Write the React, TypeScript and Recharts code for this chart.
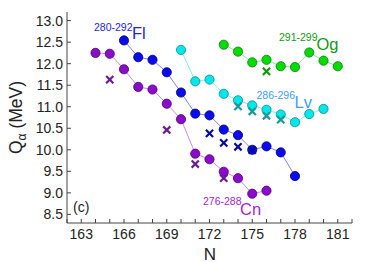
import React from 'react';
import { ScatterChart, Scatter, XAxis, YAxis } from 'recharts';

// calculated Q_alpha (circles, connected) and experiment (crosses)
const cnN = [164, 165, 166, 167, 168, 169, 170, 171, 172, 173, 174, 175, 176];
const cnQ = [12.25, 12.23, 11.87, 11.46, 11.4, 11.07, 10.71, 9.91, 9.78, 9.49, 9.34, 8.98, 9.05];
const flN = [166, 167, 168, 169, 170, 171, 172, 173, 174, 175, 176, 177, 178];
const flQ = [12.54, 12.15, 12.09, 11.8, 11.33, 10.84, 10.8, 10.47, 10.34, 10.0, 10.08, 9.94, 9.39];
const lvN = [170, 171, 172, 173, 174, 175, 176, 177, 178, 179, 180];
const lvQ = [12.32, 11.59, 11.63, 11.3, 11.15, 11.03, 10.93, 10.82, 10.64, 10.83, 10.95];
const ogN = [173, 174, 175, 176, 177, 178, 179, 180, 181];
const ogQ = [12.44, 12.28, 12.03, 12.09, 11.94, 11.92, 12.26, 12.07, 11.94];

const cnExpN = [165, 169, 171, 173];
const cnExpQ = [11.63, 10.46, 9.67, 9.34];
const flExpN = [172, 173, 174, 175];
const flExpQ = [10.38, 10.16, 10.07, 9.99];
const lvExpN = [174, 175, 176, 177];
const lvExpQ = [11.01, 10.89, 10.79, 10.7];
const ogExpN = [176];
const ogExpQ = [11.82];

const xTickLabels = [163, 166, 169, 172, 175, 178, 181];
const yTickLabels = [8.5, 9.0, 9.5, 10.0, 10.5, 11.0, 11.5, 12.0, 12.5, 13.0];

const zip = (ns: number[], qs: number[]) => ns.map((n, i) => ({ n, q: qs[i] }));

const FONT = '"Liberation Sans", Arial, sans-serif';
const FRAME = '#444';
const xMinor = Array.from({ length: 21 }, (_, i) => 162 + i);

const dot = (fill: string, edge: string) => (p: any) => (
  <circle cx={p.cx} cy={p.cy} r={4.6} fill={fill} stroke={edge} strokeWidth={0.8} />
);

const cross = (color: string) => (p: any) => {
  const s = 3.6;
  return (
    <path
      d={`M${p.cx - s},${p.cy - s}L${p.cx + s},${p.cy + s}M${p.cx - s},${p.cy + s}L${p.cx + s},${p.cy - s}`}
      stroke={color}
      strokeWidth={2.2}
      fill="none"
    />
  );
};

const BottomTick = ({ x, y, payload }: any) => (
  <g>
    <line x1={x} y1={y} x2={x} y2={y - 4} stroke={FRAME} />
    {xTickLabels.includes(payload.value) && (
      <text x={x} y={y + 15.5} textAnchor="middle" fontSize={14} fill="#222" fontFamily={FONT}>
        {payload.value}
      </text>
    )}
  </g>
);

const TopTick = ({ x, y }: any) => <line x1={x} y1={y} x2={x} y2={y + 4} stroke={FRAME} />;

const LeftTick = ({ x, y, payload }: any) => (
  <g>
    <line x1={x} y1={y} x2={x + 4} y2={y} stroke={FRAME} />
    <text x={x - 4} y={y + 5} textAnchor="end" fontSize={14} fill="#222" fontFamily={FONT}>
      {payload.value.toFixed(1)}
    </text>
  </g>
);

const RightTick = ({ x, y }: any) => <line x1={x} y1={y} x2={x - 4} y2={y} stroke={FRAME} />;

export default function App() {
  return (
    <div style={{ position: 'absolute', left: 0, top: 0, background: '#fff' }}>
      <ScatterChart width={374} height={262} margin={{ top: 12, right: 22, bottom: 0, left: 0 }}>
        <XAxis
          xAxisId="b"
          type="number"
          dataKey="n"
          domain={[162, 182]}
          allowDataOverflow
          ticks={xMinor}
          interval={0}
          height={39}
          tickSize={0}
          tickMargin={0}
          tickLine={false}
          axisLine={{ stroke: FRAME }}
          tick={<BottomTick />}
        />
        <XAxis
          xAxisId="t"
          orientation="top"
          type="number"
          dataKey="n"
          domain={[162, 182]}
          allowDataOverflow
          ticks={xMinor}
          interval={0}
          height={0}
          tickSize={0}
          tickMargin={0}
          tickLine={false}
          axisLine={{ stroke: FRAME }}
          tick={<TopTick />}
        />
        <YAxis
          yAxisId="l"
          type="number"
          dataKey="q"
          domain={[8.3, 13.2]}
          allowDataOverflow
          ticks={yTickLabels}
          interval={0}
          width={67}
          tickSize={0}
          tickMargin={0}
          tickLine={false}
          axisLine={{ stroke: FRAME }}
          tick={<LeftTick />}
        />
        <YAxis
          yAxisId="r"
          orientation="right"
          type="number"
          dataKey="q"
          domain={[8.3, 13.2]}
          allowDataOverflow
          ticks={yTickLabels}
          interval={0}
          width={0}
          tickSize={0}
          tickMargin={0}
          tickLine={false}
          axisLine={{ stroke: FRAME }}
          tick={<RightTick />}
        />

        <Scatter xAxisId="b" yAxisId="l" data={zip(ogN, ogQ)} line={{ stroke: '#86ee86', strokeWidth: 1 }} shape={dot('#00dd00', '#117711')} isAnimationActive={false} />
        <Scatter xAxisId="b" yAxisId="l" data={zip(lvN, lvQ)} line={{ stroke: '#80f0f0', strokeWidth: 1 }} shape={dot('#00e8ee', '#118888')} isAnimationActive={false} />
        <Scatter xAxisId="b" yAxisId="l" data={zip(flN, flQ)} line={{ stroke: '#8080ff', strokeWidth: 1 }} shape={dot('#0b0bee', '#000077')} isAnimationActive={false} />
        <Scatter xAxisId="b" yAxisId="l" data={zip(cnN, cnQ)} line={{ stroke: '#cc8cee', strokeWidth: 1 }} shape={dot('#8c0acc', '#4a0070')} isAnimationActive={false} />

        <Scatter xAxisId="b" yAxisId="l" data={zip(cnExpN, cnExpQ)} shape={cross('#6a1a96')} isAnimationActive={false} />
        <Scatter xAxisId="b" yAxisId="l" data={zip(flExpN, flExpQ)} shape={cross('#0a0a9a')} isAnimationActive={false} />
        <Scatter xAxisId="b" yAxisId="l" data={zip(lvExpN, lvExpQ)} shape={cross('#1a9898')} isAnimationActive={false} />
        <Scatter xAxisId="b" yAxisId="l" data={zip(ogExpN, ogExpQ)} shape={cross('#0a9a0a')} isAnimationActive={false} />

        <text transform="translate(22,117.5) rotate(-90)" textAnchor="middle" fontSize={17.5} fill="#222" fontFamily={FONT}>
          Q<tspan fontSize={12} dy={4}>α</tspan>
          <tspan dy={-4}> (MeV)</tspan>
        </text>
        <text x={210} y={259.5} textAnchor="middle" fontSize={17} fill="#222" fontFamily={FONT}>N</text>
        <text x={73} y={212} fontSize={14} fill="#222" fontFamily={FONT}>(c)</text>

        <text x={94} y={31.3} fontSize={10.5} fill="#2424dd" fontFamily={FONT}>280-292</text>
        <text x={132} y={39.3} fontSize={16.5} fill="#2424dd" fontFamily={FONT}>Fl</text>
        <text x={256.5} y={98.7} fontSize={10.5} fill="#3e9cff" fontFamily={FONT}>286-296</text>
        <text x={294.5} y={108} fontSize={16.5} fill="#3e9cff" fontFamily={FONT}>Lv</text>
        <text x={279} y={40.7} fontSize={10.5} fill="#139a13" fontFamily={FONT}>291-299</text>
        <text x={316.5} y={50} fontSize={16.5} fill="#139a13" fontFamily={FONT}>Og</text>
        <text x={203} y={205} fontSize={10.5} fill="#a424dd" fontFamily={FONT}>276-288</text>
        <text x={240} y={215} fontSize={16.5} fill="#a424dd" fontFamily={FONT}>Cn</text>
      </ScatterChart>
    </div>
  );
}
